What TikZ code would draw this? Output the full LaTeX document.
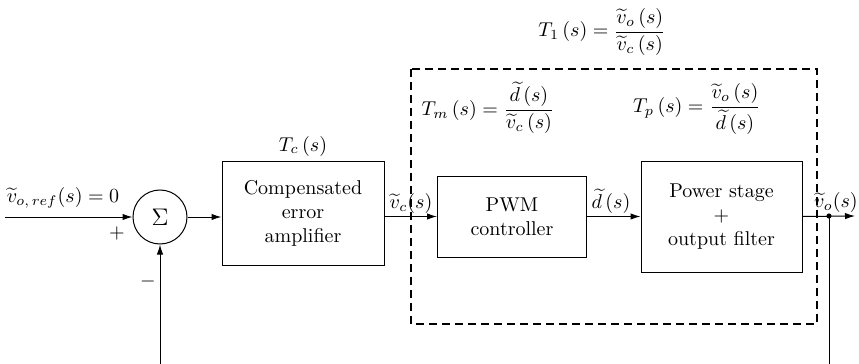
\documentclass[tikz,border=0pt]{standalone}
\usepackage{amsmath}
\usetikzlibrary{arrows.meta}
\tikzset{
  blockbox/.style={draw, line width=.5pt, align=center},
  sig/.style={line width=.5pt, -{Latex[length=5pt,width=3.2pt]}},
  lbl/.style={inner sep=1pt},
}
\begin{document}
\begin{tikzpicture}[x=.5pt, y=-.5pt, every node/.style={font=\normalsize}]
  \useasboundingbox (0,0) rectangle (859,364);
  \coordinate (in) at (5,217); \coordinate (out) at (855,216);
  \coordinate (tap) at (829,216);
  \coordinate (fbL) at (160,364); \coordinate (fbR) at (829,364);
  % blocks
  \node[draw, circle, line width=.5pt, minimum size=27pt, inner sep=0pt, font=\large] (sum) at (160,217) {$\Sigma$};
  \node[blockbox, minimum width=81pt, minimum height=52pt] (comp) at (303,213) {Compensated\\error\\amplifier};
  \node[blockbox, minimum width=74.5pt, minimum height=40.5pt] (pwm) at (512,216.5) {PWM\\controller};
  \node[blockbox, minimum width=80.5pt, minimum height=55.5pt] (power) at (721.5,216.5) {Power stage\\+\\output filter};
  % dashed plant
  \draw[dashed, line width=1pt, dash pattern=on 4pt off 2.5pt] (411,69) rectangle (817,324);
  % connectors
  \draw[sig] (in) -- (sum);
  \draw[sig] (fbL) -- (sum.south);
  \draw[sig] (sum.east) -- (sum.east -| comp.west);
  \draw[sig] (comp.east |- pwm.west) -- (pwm.west);
  \draw[sig] (pwm.east) -- (pwm.east -| power.west);
  \draw[sig] (power.east) -- (out);
  \draw[line width=.5pt] (tap) -- (fbR);
  \fill (tap) circle (1.3pt);
  % labels
  \node[lbl] (lref) at (63,198) {$\widetilde{v}_{o,\,ref}(s) = 0$};
  \node[lbl] (lplus) at (117,233) {$+$};
  \node[lbl] (lminus) at (148,281) {$-$};
  \node[lbl] (ltc) at (303,146) {$T_c\,(s)$};
  \node[lbl] (lvc) at (411,203) {$\widetilde{v}_c(s)$};
  \node[lbl] (ld) at (611,201) {$\widetilde{d}\,(s)$};
  \node[lbl] (lvo) at (836,202) {$\widetilde{v}_o(s)$};
  \node[lbl] (lt1) at (602,32) {$T_1\,(s) = \dfrac{\widetilde{v}_o\,(s)}{\widetilde{v}_c\,(s)}$};
  \node[lbl] (ltm) at (488,108) {$T_m\,(s) = \dfrac{\widetilde{d}\,(s)}{\widetilde{v}_c\,(s)}$};
  \node[lbl] (ltp) at (697,109) {$T_p\,(s) = \dfrac{\widetilde{v}_o\,(s)}{\widetilde{d}\,(s)}$};
\end{tikzpicture}
\end{document}
